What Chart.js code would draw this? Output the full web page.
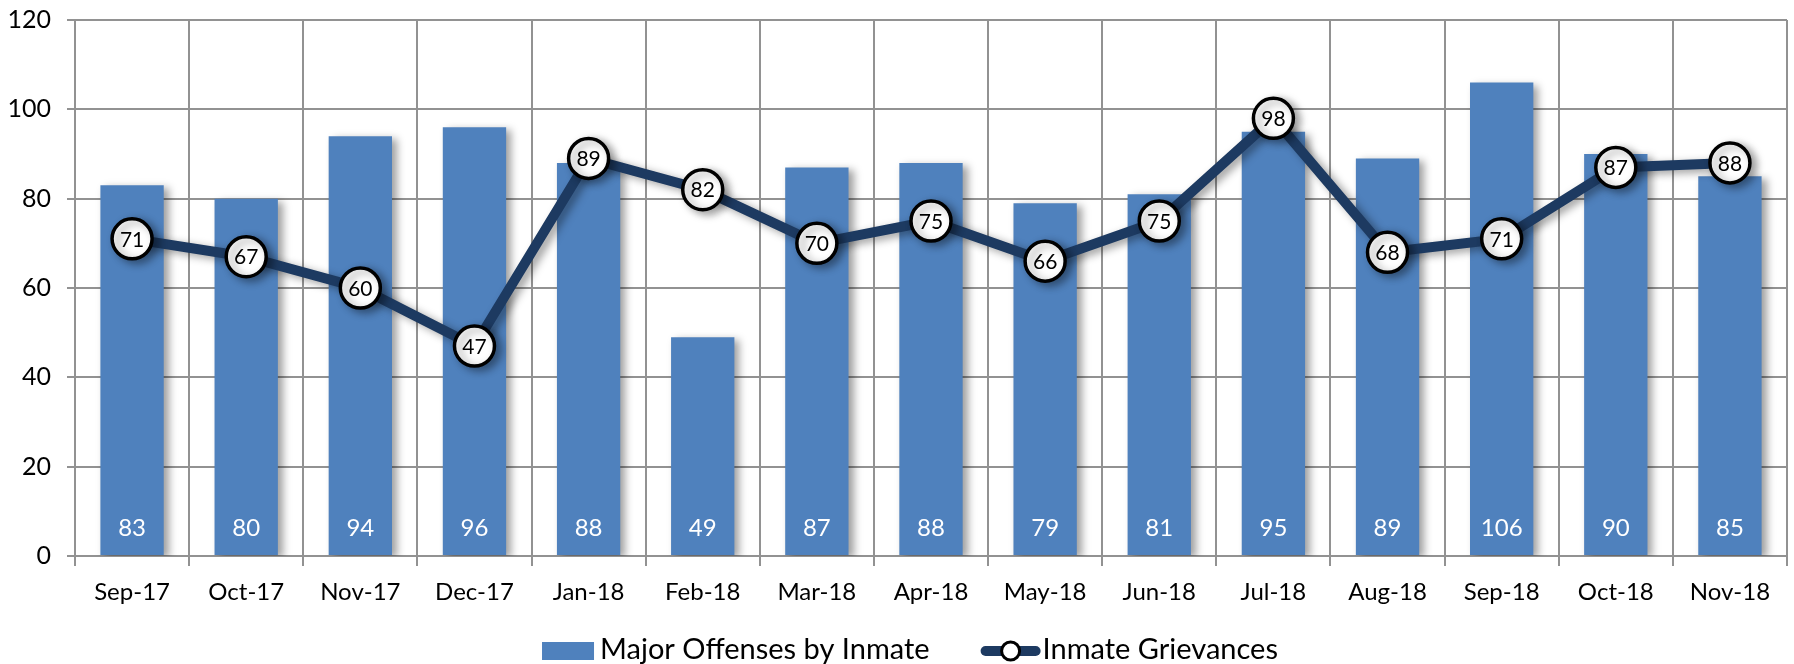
<!DOCTYPE html>
<html>
<head>
<meta charset="utf-8">
<script src="https://cdn.jsdelivr.net/npm/chart.js@4.4.0/dist/chart.umd.min.js"></script>
<style>
  html, body { margin: 0; padding: 0; background: #fff; }
  #wrap { width: 1794px; height: 664px; position: relative; }
</style>
</head>
<body>
<div id="wrap"><canvas id="grafico"></canvas></div>
<script>
const meses = ['Sep-17', 'Oct-17', 'Nov-17', 'Dec-17', 'Jan-18', 'Feb-18', 'Mar-18', 'Apr-18',
               'May-18', 'Jun-18', 'Jul-18', 'Aug-18', 'Sep-18', 'Oct-18', 'Nov-18'];
const ofensasMayores = [83, 80, 94, 96, 88, 49, 87, 88, 79, 81, 95, 89, 106, 90, 85];
const quejas = [71, 67, 60, 47, 89, 82, 70, 75, 66, 75, 98, 68, 71, 87, 88];

const FUENTE = 'Lato, "Liberation Sans", sans-serif';
const AZUL = '#4F81BD';
const MARINO = '#1D3A61';
const GRIS = '#929292';

// sombra suave detras de barras, linea y marcadores
const sombra = {
    id: 'sombra',
    beforeDatasetDraw(chart) {
        const ctx = chart.ctx;
        ctx.save();
        ctx.shadowColor = 'rgba(0,0,0,0.38)';
        ctx.shadowBlur = 8;
        ctx.shadowOffsetX = 5;
        ctx.shadowOffsetY = 3;
    },
    afterDatasetDraw(chart) {
        chart.ctx.restore();
    }
};

// valores dentro de las barras y de los circulos
const etiquetas = {
    id: 'etiquetas',
    afterDatasetsDraw(chart) {
        const ctx = chart.ctx;
        const y0 = chart.scales.y.getPixelForValue(0);
        ctx.save();
        ctx.textAlign = 'center';
        ctx.textBaseline = 'middle';

        ctx.fillStyle = '#fff';
        ctx.font = '24px ' + FUENTE;
        chart.getDatasetMeta(0).data.forEach((bar, i) => {
            ctx.fillText(chart.data.datasets[0].data[i], bar.x, y0 - 28);
        });

        ctx.fillStyle = '#000';
        ctx.font = '21px ' + FUENTE;
        chart.getDatasetMeta(1).data.forEach((pt, i) => {
            ctx.fillText(chart.data.datasets[1].data[i], pt.x, pt.y + 1);
        });
        ctx.restore();
    }
};

// leyenda abajo, dibujada a mano
const leyenda = {
    id: 'leyenda',
    afterDraw(chart) {
        const ctx = chart.ctx;
        const t1 = chart.data.datasets[0].label;
        const t2 = chart.data.datasets[1].label;
        ctx.save();
        ctx.font = '29px ' + FUENTE;
        const w1 = ctx.measureText(t1).width;
        const w2 = ctx.measureText(t2).width;
        const total = 52 + 6 + w1 + 51 + 62 + w2;
        let x = 910 - total / 2;
        const y = 650;

        ctx.fillStyle = AZUL;
        ctx.fillRect(x, y - 8, 52, 18);
        x += 58;
        ctx.fillStyle = '#000';
        ctx.textAlign = 'left';
        ctx.textBaseline = 'middle';
        ctx.fillText(t1, x, y);
        x += w1 + 51;

        ctx.strokeStyle = MARINO;
        ctx.lineWidth = 10;
        ctx.lineCap = 'round';
        ctx.beginPath();
        ctx.moveTo(x + 5, y + 1);
        ctx.lineTo(x + 55, y + 1);
        ctx.stroke();
        ctx.beginPath();
        ctx.arc(x + 30, y + 1, 9, 0, Math.PI * 2);
        ctx.fillStyle = '#fff';
        ctx.fill();
        ctx.lineWidth = 3;
        ctx.strokeStyle = '#000';
        ctx.stroke();
        x += 62;

        ctx.fillStyle = '#000';
        ctx.fillText(t2, x, y);
        ctx.restore();
    }
};

const ctx = document.getElementById('grafico').getContext('2d');
new Chart(ctx, {
    type: 'bar',
    data: {
        labels: meses,
        datasets: [
            {
                type: 'bar',
                label: 'Major Offenses by Inmate',
                data: ofensasMayores,
                backgroundColor: AZUL,
                borderWidth: 0,
                barPercentage: 0.555,
                categoryPercentage: 1,
                order: 1
            },
            {
                type: 'line',
                label: 'Inmate Grievances',
                data: quejas,
                borderColor: MARINO,
                borderWidth: 10,
                tension: 0,
                pointRadius: 20,
                pointHoverRadius: 20,
                pointBackgroundColor: '#fff',
                pointBorderColor: '#000',
                pointBorderWidth: 3.5,
                order: 0
            }
        ]
    },
    options: {
        responsive: true,
        maintainAspectRatio: false,
        animation: false,
        layout: { autoPadding: false, padding: { top: 20, right: 7, bottom: 52, left: 0 } },
        plugins: {
            legend: { display: false },
            tooltip: { enabled: false }
        },
        scales: {
            x: {
                grid: { offset: true, color: GRIS, lineWidth: 2, tickLength: 10 },
                border: { color: GRIS, width: 2 },
                ticks: { color: '#000', font: { family: FUENTE, size: 24 }, padding: 12, maxRotation: 0 },
                afterFit: s => { s.height = 56; s.paddingLeft = 0; s.paddingRight = 0; }
            },
            y: {
                min: 0,
                max: 120,
                ticks: { stepSize: 20, color: '#000', font: { family: FUENTE, size: 25 }, padding: 16 },
                grid: { color: GRIS, lineWidth: 2, tickLength: 8 },
                border: { color: GRIS, width: 2 },
                afterFit: s => { s.width = 75; s.paddingTop = 0; s.paddingBottom = 0; }
            }
        }
    },
    plugins: [sombra, etiquetas, leyenda]
});
</script>
</body>
</html>
